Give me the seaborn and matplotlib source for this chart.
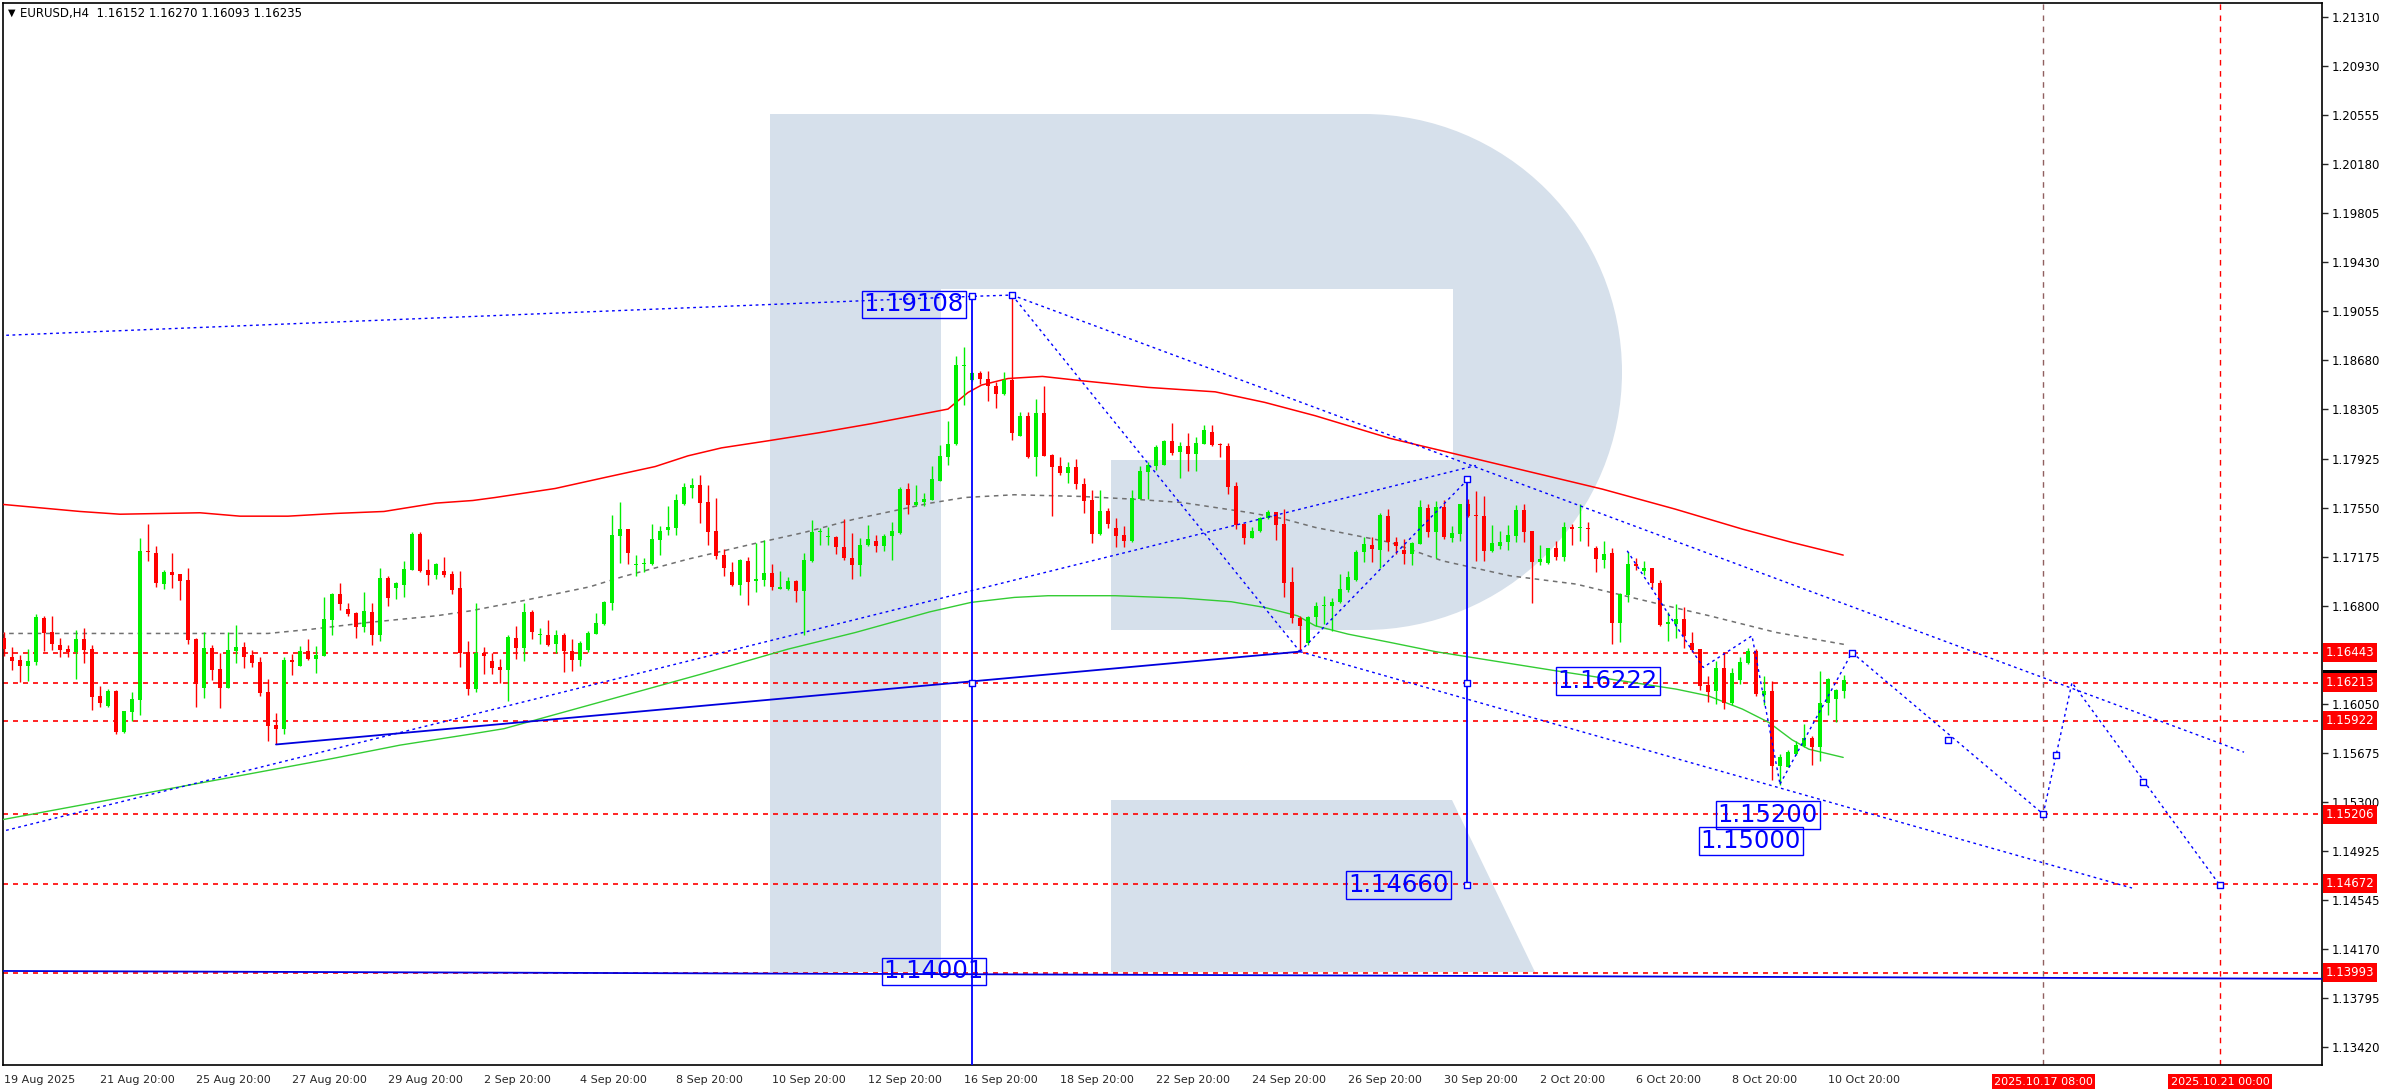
import matplotlib
matplotlib.use("Agg")
import matplotlib.pyplot as plt
import matplotlib.patches as mpatches
import matplotlib.transforms as mtransforms
import seaborn as sns
import numpy as np

W, H = 2392, 1090

# ---- EURUSD H4 candles, bar 0 = 19 Aug 20:00 ----
opens = [1.16558, 1.16405, 1.16385, 1.16341, 1.16372, 1.16706, 1.16599, 1.16500, 1.16469, 1.16449,
         1.16545, 1.16469, 1.16107, 1.16032, 1.16150, 1.15833, 1.15989, 1.16081, 1.17219, 1.17204,
         1.16969, 1.17058, 1.17041, 1.16997, 1.16543, 1.16173, 1.16477, 1.16316, 1.16173, 1.16456,
         1.16484, 1.16423, 1.16369, 1.16140, 1.15887, 1.15859, 1.16385, 1.16341, 1.16454, 1.16395,
         1.16418, 1.16693, 1.16890, 1.16775, 1.16745, 1.16640, 1.16752, 1.16579, 1.17012, 1.16938,
         1.16961, 1.17076, 1.17349, 1.17074, 1.17038, 1.17066, 1.17043, 1.16936, 1.16446, 1.16163,
         1.16438, 1.16380, 1.16336, 1.16308, 1.16558, 1.16477, 1.16752, 1.16579, 1.16576, 1.16507,
         1.16576, 1.16456, 1.16385, 1.16461, 1.16584, 1.16660, 1.16821, 1.17336, 1.17387, 1.17114,
         1.17117, 1.17119, 1.17306, 1.17382, 1.17395, 1.17579, 1.17704, 1.17724, 1.17594, 1.17372,
         1.17188, 1.17058, 1.16961, 1.17142, 1.16987, 1.17002, 1.17050, 1.16933, 1.16933, 1.16989,
         1.16913, 1.17142, 1.17362, 1.17324, 1.17326, 1.17250, 1.17170, 1.17112, 1.17267, 1.17295,
         1.17257, 1.17336, 1.17357, 1.17694, 1.17574, 1.17597, 1.17610, 1.17758, 1.17942, 1.18039,
         1.18638, 1.18531, 1.18580, 1.18536, 1.18485, 1.18422, 1.18529, 1.18103, 1.18253, 1.17942,
         1.18276, 1.17957, 1.17868, 1.17819, 1.17860, 1.17733, 1.17610, 1.17350, 1.17523, 1.17396,
         1.17342, 1.17299, 1.17618, 1.17827, 1.17873, 1.17881, 1.18059, 1.17975, 1.18023, 1.17960,
         1.18039, 1.18128, 1.18039, 1.18023, 1.17717, 1.17426, 1.17322, 1.17370, 1.17470, 1.17516,
         1.17426, 1.16980, 1.16709, 1.16513, 1.16712, 1.16798, 1.16798, 1.16827, 1.16923, 1.17000,
         1.17209, 1.17263, 1.17230, 1.17487, 1.17293, 1.17230, 1.17199, 1.17275, 1.17549, 1.17367,
         1.17561, 1.17321, 1.17352, 1.17579, 1.17495, 1.17487, 1.17222, 1.17260, 1.17293, 1.17339,
         1.17533, 1.17372, 1.17138, 1.17127, 1.17240, 1.17171, 1.17401, 1.17393, 1.17395, 1.17247,
         1.17153, 1.17204, 1.16668, 1.16882, 1.17120, 1.17069, 1.17087, 1.16979, 1.16660, 1.16660,
         1.16699, 1.16515, 1.16469, 1.16193, 1.16145, 1.16324, 1.16053, 1.16234, 1.16362, 1.16451,
         1.16119, 1.16150, 1.15576, 1.15568, 1.15665, 1.15729, 1.15788, 1.15716, 1.16053, 1.16086,
         1.16152]
highs = [1.16604, 1.16482, 1.16423, 1.16469, 1.16737, 1.16724, 1.16724, 1.16553, 1.16500, 1.16614,
         1.16630, 1.16500, 1.16183, 1.16163, 1.16158, 1.15999, 1.16137, 1.17319, 1.17426, 1.17257,
         1.17074, 1.17204, 1.17045, 1.17089, 1.16556, 1.16597, 1.16500, 1.16443, 1.16604, 1.16653,
         1.16523, 1.16466, 1.16408, 1.16237, 1.15979, 1.16408, 1.16428, 1.16492, 1.16545, 1.16492,
         1.16867, 1.16898, 1.16974, 1.16819, 1.16755, 1.16905, 1.16821, 1.17089, 1.17028, 1.16982,
         1.17143, 1.17367, 1.17362, 1.17161, 1.17132, 1.17173, 1.17066, 1.17066, 1.16530, 1.16821,
         1.16484, 1.16443, 1.16392, 1.16581, 1.16645, 1.16821, 1.16770, 1.16627, 1.16691, 1.16614,
         1.16589, 1.16550, 1.16530, 1.16607, 1.16744, 1.16841, 1.17495, 1.17594, 1.17387, 1.17188,
         1.17170, 1.17426, 1.17408, 1.17563, 1.17655, 1.17740, 1.17778, 1.17801, 1.17724, 1.17625,
         1.17232, 1.17135, 1.17158, 1.17178, 1.17280, 1.17303, 1.17119, 1.17066, 1.17025, 1.16995,
         1.17204, 1.17456, 1.17400, 1.17405, 1.17336, 1.17469, 1.17357, 1.17318, 1.17418, 1.17341,
         1.17347, 1.17444, 1.17709, 1.17740, 1.17727, 1.17663, 1.17868, 1.18031, 1.18212, 1.18710,
         1.18779, 1.18587, 1.18598, 1.18598, 1.18511, 1.18587, 1.19180, 1.18281, 1.18281, 1.18383,
         1.18480, 1.17962, 1.17937, 1.17901, 1.17921, 1.17776, 1.17687, 1.17684, 1.17549, 1.17472,
         1.17408, 1.17687, 1.17868, 1.17904, 1.18029, 1.18067, 1.18200, 1.18054, 1.18123, 1.18090,
         1.18184, 1.18187, 1.18046, 1.18046, 1.17750, 1.17436, 1.17403, 1.17482, 1.17533, 1.17518,
         1.17541, 1.17097, 1.16724, 1.16719, 1.16827, 1.16878, 1.16862, 1.17043, 1.17064, 1.17227,
         1.17324, 1.17327, 1.17508, 1.17541, 1.17324, 1.17316, 1.17286, 1.17610, 1.17579, 1.17600,
         1.17610, 1.17408, 1.17584, 1.17617, 1.17681, 1.17638, 1.17418, 1.17370, 1.17416, 1.17574,
         1.17579, 1.17372, 1.17265, 1.17247, 1.17298, 1.17439, 1.17426, 1.17584, 1.17439, 1.17255,
         1.17298, 1.17247, 1.16898, 1.17209, 1.17166, 1.17145, 1.17089, 1.17000, 1.16755, 1.16814,
         1.16788, 1.16604, 1.16469, 1.16265, 1.16380, 1.16444, 1.16324, 1.16405, 1.16474, 1.16469,
         1.16265, 1.16227, 1.15665, 1.15698, 1.15762, 1.15895, 1.15806, 1.16303, 1.16247, 1.16163,
         1.16270]
lows = [1.16418, 1.16311, 1.16214, 1.16226, 1.16349, 1.16456, 1.16461, 1.16410, 1.16410, 1.16239,
        1.16362, 1.16004, 1.16025, 1.16025, 1.15821, 1.15828, 1.15920, 1.15966, 1.17145, 1.16946,
        1.16928, 1.16936, 1.16847, 1.16512, 1.16027, 1.16094, 1.16234, 1.16020, 1.16173, 1.16364,
        1.16326, 1.16334, 1.16109, 1.15767, 1.15739, 1.15821, 1.16272, 1.16341, 1.16385, 1.16288,
        1.16418, 1.16579, 1.16770, 1.16724, 1.16556, 1.16602, 1.16502, 1.16530, 1.16801, 1.16854,
        1.16870, 1.17074, 1.17061, 1.16961, 1.17007, 1.17025, 1.16893, 1.16331, 1.16119, 1.16137,
        1.16277, 1.16277, 1.16209, 1.16071, 1.16392, 1.16380, 1.16545, 1.16507, 1.16494, 1.16436,
        1.16295, 1.16303, 1.16341, 1.16448, 1.16584, 1.16653, 1.16770, 1.17127, 1.17119, 1.17030,
        1.17056, 1.17112, 1.17191, 1.17344, 1.17344, 1.17574, 1.17625, 1.17433, 1.17265, 1.17158,
        1.17028, 1.16954, 1.16882, 1.16808, 1.16910, 1.16954, 1.16923, 1.16933, 1.16923, 1.16828,
        1.16578, 1.17135, 1.17265, 1.17265, 1.17196, 1.17153, 1.17005, 1.17028, 1.17255, 1.17214,
        1.17219, 1.17150, 1.17349, 1.17502, 1.17566, 1.17566, 1.17610, 1.17753, 1.17881, 1.18034,
        1.18337, 1.18524, 1.18501, 1.18371, 1.18317, 1.18416, 1.18072, 1.18103, 1.17932, 1.17796,
        1.17944, 1.17490, 1.17804, 1.17743, 1.17697, 1.17508, 1.17278, 1.17345, 1.17398, 1.17253,
        1.17253, 1.17288, 1.17618, 1.17618, 1.17840, 1.17875, 1.17955, 1.17778, 1.17832, 1.17832,
        1.18036, 1.18023, 1.17942, 1.17659, 1.17391, 1.17273, 1.17319, 1.17368, 1.17465, 1.17301,
        1.16870, 1.16666, 1.16464, 1.16500, 1.16648, 1.16658, 1.16610, 1.16821, 1.16903, 1.16992,
        1.17133, 1.17138, 1.17087, 1.17222, 1.17201, 1.17120, 1.17112, 1.17273, 1.17324, 1.17163,
        1.17316, 1.17293, 1.17298, 1.17477, 1.17145, 1.17145, 1.17209, 1.17235, 1.17227, 1.17286,
        1.17293, 1.16826, 1.17112, 1.17122, 1.17153, 1.17145, 1.17270, 1.17298, 1.17260, 1.17056,
        1.17089, 1.16512, 1.16520, 1.16831, 1.17076, 1.17038, 1.16934, 1.16648, 1.16533, 1.16551,
        1.16474, 1.16449, 1.16155, 1.16068, 1.16048, 1.16010, 1.16040, 1.16201, 1.16359, 1.16112,
        1.16040, 1.15466, 1.15430, 1.15563, 1.15657, 1.15716, 1.15581, 1.15614, 1.15964, 1.15913,
        1.16093]
closes = [1.16469, 1.16380, 1.16341, 1.16377, 1.16714, 1.16594, 1.16510, 1.16464, 1.16449, 1.16545,
          1.16464, 1.16104, 1.16058, 1.16150, 1.15836, 1.15994, 1.16086, 1.17219, 1.17209, 1.16977,
          1.17058, 1.17038, 1.16992, 1.16540, 1.16204, 1.16477, 1.16311, 1.16173, 1.16461, 1.16484,
          1.16410, 1.16364, 1.16135, 1.15882, 1.15859, 1.16385, 1.16372, 1.16451, 1.16395, 1.16423,
          1.16699, 1.16890, 1.16816, 1.16739, 1.16640, 1.16760, 1.16579, 1.17012, 1.16862, 1.16974,
          1.17081, 1.17349, 1.17069, 1.17035, 1.17120, 1.17035, 1.16923, 1.16441, 1.16163, 1.16438,
          1.16413, 1.16323, 1.16311, 1.16563, 1.16477, 1.16752, 1.16602, 1.16581, 1.16502, 1.16576,
          1.16456, 1.16385, 1.16515, 1.16596, 1.16668, 1.16829, 1.17341, 1.17387, 1.17204, 1.17122,
          1.17124, 1.17311, 1.17377, 1.17403, 1.17607, 1.17709, 1.17729, 1.17586, 1.17367, 1.17181,
          1.17091, 1.16961, 1.17153, 1.16984, 1.17005, 1.17050, 1.16943, 1.16938, 1.16989, 1.16913,
          1.17150, 1.17364, 1.17367, 1.17326, 1.17250, 1.17165, 1.17112, 1.17265, 1.17316, 1.17257,
          1.17339, 1.17372, 1.17694, 1.17574, 1.17599, 1.17617, 1.17771, 1.17947, 1.18039, 1.18644,
          1.18644, 1.18580, 1.18534, 1.18480, 1.18424, 1.18529, 1.18120, 1.18253, 1.17939, 1.18276,
          1.17949, 1.17865, 1.17819, 1.17860, 1.17735, 1.17605, 1.17350, 1.17523, 1.17426, 1.17337,
          1.17299, 1.17625, 1.17832, 1.17878, 1.18016, 1.18062, 1.17972, 1.18023, 1.17965, 1.18046,
          1.18143, 1.18034, 1.18029, 1.17712, 1.17421, 1.17322, 1.17370, 1.17470, 1.17516, 1.17421,
          1.16975, 1.16704, 1.16643, 1.16712, 1.16798, 1.16806, 1.16832, 1.16929, 1.17018, 1.17209,
          1.17271, 1.17232, 1.17495, 1.17286, 1.17260, 1.17199, 1.17281, 1.17554, 1.17367, 1.17561,
          1.17329, 1.17357, 1.17579, 1.17490, 1.17490, 1.17222, 1.17278, 1.17293, 1.17342, 1.17533,
          1.17367, 1.17138, 1.17158, 1.17242, 1.17176, 1.17401, 1.17390, 1.17395, 1.17390, 1.17158,
          1.17201, 1.16668, 1.16890, 1.17120, 1.17107, 1.17089, 1.16979, 1.16653, 1.16673, 1.16699,
          1.16571, 1.16464, 1.16188, 1.16142, 1.16324, 1.16053, 1.16290, 1.16367, 1.16451, 1.16125,
          1.16150, 1.15576, 1.15645, 1.15678, 1.15734, 1.15788, 1.15716, 1.16053, 1.16239, 1.16155,
          1.16235]

# ---- moving averages (bar position, price) ----
red_ma_x = [-0.5, 9.5, 14.5, 24.5, 29.5, 35.5, 41.5, 47.5, 54, 58.6, 61.4, 68.9, 75.1, 81.4, 85.5,
            89.7, 95.5, 102, 108.5, 114, 118, 120.5, 122.2, 125.5, 129.8, 134.7, 143, 151.4, 157.6,
            163.9, 173.3, 199.8, 208.9, 217.3, 223.5, 229.9]
red_ma_y = [1.17579, 1.17523, 1.17502, 1.17513, 1.17487, 1.17487, 1.17508, 1.17523, 1.17587, 1.17607,
            1.17630, 1.17699, 1.17783, 1.17867, 1.17949, 1.18010, 1.18064, 1.18127, 1.18196, 1.18260,
            1.18307, 1.18434, 1.18491, 1.18541, 1.18557, 1.18524, 1.18473, 1.18439, 1.18358, 1.18256,
            1.18082, 1.17694, 1.17541, 1.17388, 1.17286, 1.17189]
green_ma_x = [-0.5, 41.1, 49.5, 58.3, 62.5, 87, 98, 106.4, 115.7, 120.9, 126.3, 130.5, 138.9, 147.2,
              153.4, 157.6, 161.7, 163.9, 168, 173.3, 179, 194, 209, 213, 217.3, 220.6, 223.5, 225.6, 229.9]
green_ma_y = [1.15160, 1.15632, 1.15734, 1.15818, 1.15860, 1.16275, 1.16469, 1.16596, 1.16754, 1.16827,
              1.16865, 1.16878, 1.16878, 1.16860, 1.16832, 1.16788, 1.16724, 1.16648, 1.16584, 1.16520,
              1.16449, 1.16303, 1.16163, 1.16112, 1.16010, 1.15908, 1.15775, 1.15703, 1.15640]
gray_ma_x = [-0.5, 33, 38.5, 45.5, 54, 58.3, 64.8, 73.2, 77.4, 85.5, 94, 100, 106.3, 115.7, 120.1,
             126.3, 134.7, 140.9, 147.2, 155.5, 159.7, 163.9, 173.3, 179.8, 188.2, 196.5, 206.9,
             213.2, 221.5, 230.5]
gray_ma_y = [1.16589, 1.16589, 1.16622, 1.16673, 1.16724, 1.16762, 1.16839, 1.16946, 1.17025, 1.17158,
             1.17280, 1.17362, 1.17464, 1.17586, 1.17630, 1.17651, 1.17638, 1.17618, 1.17592, 1.17516,
             1.17470, 1.17401, 1.17286, 1.17145, 1.17031, 1.16967, 1.16814, 1.16724, 1.16597, 1.16500]

# ---- analyst drawings (bar position, price) ----
dotted_lines = [
    ([-0.5, 121, 126], [1.18870, 1.19170, 1.19180]),
    ([-0.5, 184], [1.15070, 1.17875]),
    ([126, 280], [1.19180, 1.15680]),
    ([126, 162], [1.19180, 1.16450]),
    ([162, 266], [1.16450, 1.14640]),
    ([162, 183], [1.16450, 1.17770]),
    ([202.9, 212.4, 218.5, 222], [1.17222, 1.16329, 1.16571, 1.15436]),
    ([222, 231, 254.9, 258.5, 277], [1.15436, 1.16443, 1.15206, 1.16213, 1.14660]),
]
solid_lines = [
    ([-0.5, 289.75], [1.14005, 1.13945]),
    ([34, 162], [1.15739, 1.16450]),
]
vlines_blue = [(121, 1.19180, 1.13000), (182.9, 1.17770, 1.14660)]
square_marks_x = [121, 126, 121, 182.9, 182.9, 182.9, 231, 243, 254.9, 256.5, 267.4, 277]
square_marks_y = [1.19170, 1.19180, 1.16213, 1.17770, 1.16213, 1.14660, 1.16443, 1.15770, 1.15206,
                  1.15660, 1.15455, 1.14660]

level_prices = [1.16443, 1.16213, 1.15922, 1.15206, 1.14672, 1.13993]
level_labels = ["1.16443", "1.16213", "1.15922", "1.15206", "1.14672", "1.13993"]

price_notes = ["1.19108", "1.14001", "1.14660", "1.16222", "1.15200", "1.15000"]
note_x = [120.0, 122.5, 180.6, 194.2, 214.2, 212.1]
note_y = [1.19108, 1.14001, 1.14660, 1.16222, 1.15200, 1.15000]
note_ha = ["right", "right", "right", "left", "left", "left"]

yticks = [1.21310, 1.20930, 1.20555, 1.20180, 1.19805, 1.19430, 1.19055, 1.18680, 1.18305, 1.17925,
          1.17550, 1.17175, 1.16800, 1.16050, 1.15675, 1.15300, 1.14925, 1.14545, 1.14170, 1.13795,
          1.13420]
xtick_labels = ["19 Aug 2025", "21 Aug 20:00", "25 Aug 20:00", "27 Aug 20:00", "29 Aug 20:00",
                "2 Sep 20:00", "4 Sep 20:00", "8 Sep 20:00", "10 Sep 20:00", "12 Sep 20:00",
                "16 Sep 20:00", "18 Sep 20:00", "22 Sep 20:00", "24 Sep 20:00", "26 Sep 20:00",
                "30 Sep 20:00", "2 Oct 20:00", "6 Oct 20:00", "8 Oct 20:00", "10 Oct 20:00"]
future_x = [254.9, 277]
future_labels = ["2025.10.17 08:00", "2025.10.21 00:00"]

sns.set_style("white")
plt.rcParams["font.family"] = ["DejaVu Sans"]

fig = plt.figure(figsize=(W / 100, H / 100), dpi=100)
ax = fig.add_axes([3 / W, 25 / H, 2319 / W, 1062 / H])
ax.set_xlim(-0.125, 289.75)
ax.set_ylim(1.13285, 1.21416)
pix = mtransforms.Affine2D().scale(1.0 / W, -1.0 / H).translate(0, 1) + fig.transFigure

# watermark logo
logo = "#d6e0eb"
for p in [mpatches.Rectangle((770, 114), 171, 858),
          mpatches.Rectangle((941, 114), 423, 516),
          mpatches.Ellipse((1364, 372), 516, 516),
          mpatches.Polygon([(1111, 800), (1452, 800), (1535, 972), (1111, 972)])]:
    p.set_transform(pix); p.set_facecolor(logo); p.set_edgecolor("none"); p.set_zorder(0.2)
    ax.add_patch(p)
for p in [mpatches.Rectangle((941, 289), 512, 171), mpatches.Rectangle((941, 459), 170, 171)]:
    p.set_transform(pix); p.set_facecolor("white"); p.set_edgecolor("none"); p.set_zorder(0.3)
    ax.add_patch(p)

# horizontal levels
for lv in level_prices:
    ax.axhline(lv, color="#ff0000", lw=1.2, ls=(0, (3, 3)), zorder=1)
for fx, c in zip(future_x, ["#906060", "#ff0000"]):
    ax.axvline(fx, color=c, lw=1.0, ls=(0, (4, 4)), zorder=1)

# moving averages
sns.lineplot(x=red_ma_x, y=red_ma_y, ax=ax, color="#ff0000", lw=1.1, sort=False, estimator=None, zorder=3)
sns.lineplot(x=green_ma_x, y=green_ma_y, ax=ax, color="#33cc33", lw=1.0, sort=False, estimator=None, zorder=3)
sns.lineplot(x=gray_ma_x, y=gray_ma_y, ax=ax, color="#707070", lw=1.1, sort=False, estimator=None,
             zorder=3, linestyle=(0, (3, 3)))

# candles
idx = np.arange(len(opens))
o, h, l, c = map(np.array, (opens, highs, lows, closes))
up = c >= o
col = np.where(up, "#00ee00", "#ff0000")
ax.vlines(idx, l, h, colors=col, lw=1.0, zorder=4)
body = np.maximum(np.abs(c - o), 0.00008)
ax.bar(idx, body, bottom=np.minimum(o, c), width=0.6, color=col, edgecolor="none", zorder=5)

# drawings
for xs, ys in dotted_lines:
    ax.plot(xs, ys, color="#0000ff", lw=1.0, ls=(0, (2, 2.5)), zorder=6)
for xs, ys in solid_lines:
    ax.plot(xs, ys, color="#0000dd", lw=1.3, zorder=6)
for vx, y0, y1 in vlines_blue:
    ax.plot([vx, vx], [y0, y1], color="#0000ff", lw=1.3, zorder=6)
ax.scatter(square_marks_x, square_marks_y, marker="s", s=20, facecolors="white",
           edgecolors="#0000ff", linewidths=1.0, zorder=7)

for t, nx, ny, ha in zip(price_notes, note_x, note_y, note_ha):
    ax.text(nx, ny, t, ha=ha, va="center", color="#0000ff", fontsize=17.5, zorder=8,
            bbox=dict(boxstyle="square,pad=0.08", fc="none", ec="#0000ff", lw=1.0))

# axes styling
for s in ax.spines.values():
    s.set_color("black"); s.set_linewidth(1.2)
ax.yaxis.tick_right()
ax.set_yticks(yticks)
ax.set_yticklabels([f"{v:.5f}" for v in yticks])
ax.tick_params(axis="y", direction="out", length=4, width=1, pad=3, labelsize=8.5, labelcolor="black")
ax.set_xticks(np.arange(0, 12 * len(xtick_labels), 12))
ax.set_xticklabels(xtick_labels, ha="left")
ax.tick_params(axis="x", direction="out", length=5, width=1, pad=2, labelsize=8)
ax.set_xlabel(""); ax.set_ylabel("")

blend = mtransforms.blended_transform_factory(ax.transAxes, ax.transData)
ax.text(1.0015, 1.16235, "1.16235", transform=blend, ha="left", va="center", color="white",
        fontsize=8.5, bbox=dict(boxstyle="square,pad=0.25", fc="black", ec="none"), clip_on=False, zorder=9)
for lv, lb in zip(level_prices, level_labels):
    ax.text(1.0015, lv, lb, transform=blend, ha="left", va="center", color="white", fontsize=8.5,
            bbox=dict(boxstyle="square,pad=0.25", fc="#ff0000", ec="none"), clip_on=False, zorder=10)
blend_x = mtransforms.blended_transform_factory(ax.transData, ax.transAxes)
for fx, fl in zip(future_x, future_labels):
    ax.text(fx, -0.011, fl, transform=blend_x, ha="center", va="top", color="white", fontsize=8,
            bbox=dict(boxstyle="square,pad=0.2", fc="#ff0000", ec="none"), clip_on=False)

fig.text(8 / W, 1 - 13 / H, "\u25bc", fontsize=7, va="center", ha="left", color="black")
fig.text(20 / W, 1 - 13 / H, "EURUSD,H4  1.16152 1.16270 1.16093 1.16235", fontsize=8.5,
         va="center", ha="left", color="black")

fig.savefig("out.png", dpi=100, facecolor="white")
